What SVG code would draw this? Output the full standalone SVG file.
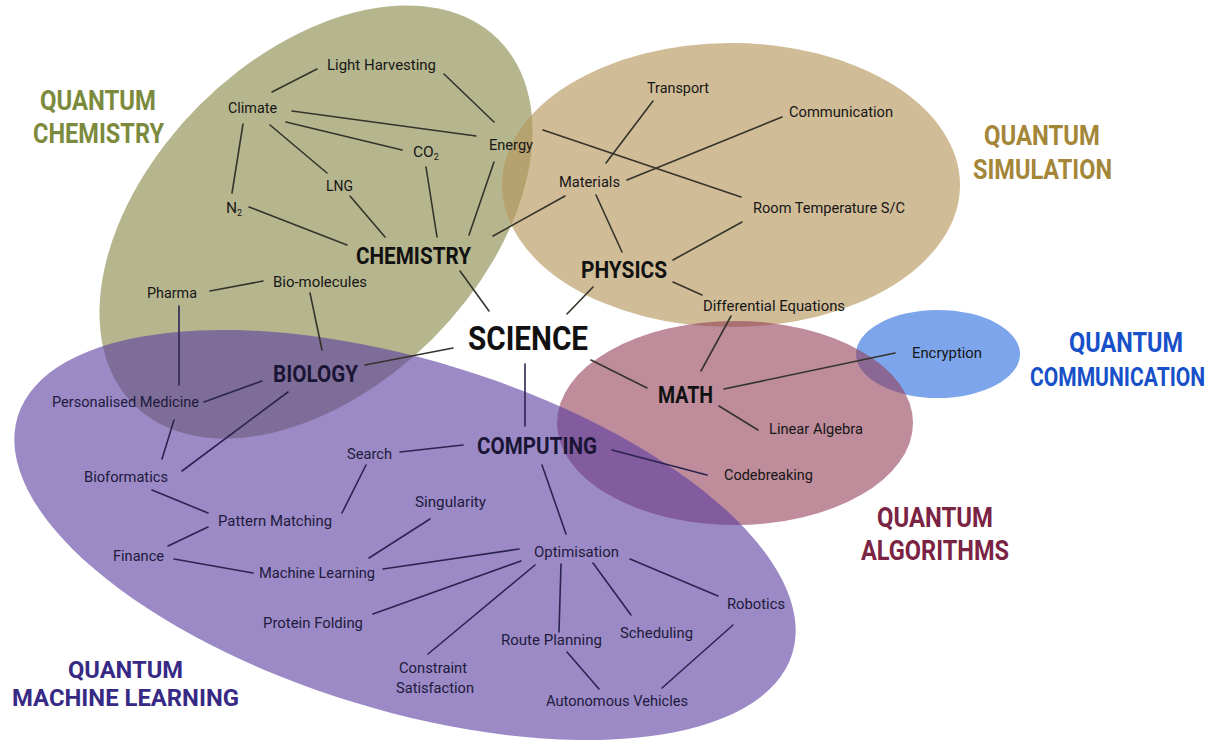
<svg xmlns="http://www.w3.org/2000/svg" width="1227" height="742" viewBox="0 0 1227 742">
<style>
text{font-family:Roboto,"Liberation Sans",sans-serif}
.s{font-size:15.5px;fill:#161616}
.sp{font-size:15.5px;fill:#201a3c}
.b{font-size:24px;font-weight:700;fill:#111}
.bp{font-size:24px;font-weight:700;fill:#1a1535}
.t{font-size:27px;font-weight:700}
.ln line{stroke:#35342c;stroke-width:1.6;stroke-linecap:round}
.ln line.p{stroke:#2b2450}
</style>
<rect width="1227" height="742" fill="#ffffff"/>
<g id="regions">
<ellipse id="r-chem" cx="316" cy="222" rx="258" ry="165" transform="rotate(-45 316 222)" fill="#b6b68e"/>
<ellipse id="r-sim" cx="731" cy="185" rx="229" ry="142" fill="#b7985e" fill-opacity="0.65"/>
<ellipse id="r-comm" cx="938" cy="354" rx="82" ry="44" fill="#7da5eb"/>
<ellipse id="r-alg" cx="735" cy="423" rx="178" ry="102" fill="#933f58" fill-opacity="0.6"/>
<ellipse id="r-ml" cx="405" cy="535" rx="405" ry="175" transform="rotate(17 405 535)" fill="#5a3ca0" fill-opacity="0.6"/>
</g>
<g id="connectors" class="ln">
<line x1="272" y1="92" x2="317" y2="69"/>
<line x1="292" y1="111" x2="476" y2="136"/>
<line x1="286" y1="122" x2="402" y2="150"/>
<line x1="270" y1="125" x2="327" y2="173"/>
<line x1="243" y1="124" x2="232" y2="193"/>
<line x1="249" y1="207" x2="347" y2="245"/>
<line x1="350" y1="196" x2="385" y2="237"/>
<line x1="444" y1="74" x2="494" y2="122"/>
<line x1="426" y1="167" x2="437" y2="237"/>
<line x1="494" y1="162" x2="469" y2="235"/>
<line x1="565" y1="196" x2="493" y2="236"/>
<line x1="543" y1="130" x2="741" y2="197"/>
<line x1="653" y1="101" x2="606" y2="163"/>
<line x1="627" y1="180" x2="782" y2="117"/>
<line x1="596" y1="195" x2="622" y2="252"/>
<line x1="742" y1="222" x2="673" y2="260"/>
<line x1="673" y1="282" x2="702" y2="295"/>
<line x1="460" y1="271" x2="489" y2="311"/>
<line x1="593" y1="287" x2="567" y2="314"/>
<line x1="453" y1="348" x2="365" y2="365"/>
<line x1="731" y1="316" x2="701" y2="371"/>
<line x1="591" y1="360" x2="647" y2="388"/>
<line x1="724" y1="389" x2="895" y2="353"/>
<line x1="719" y1="406" x2="758" y2="430"/>
<line class="p" x1="525" y1="364" x2="525" y2="426"/>
<line class="p" x1="612" y1="450" x2="707" y2="475"/>
<line class="p" x1="463" y1="445" x2="400" y2="452"/>
<line class="p" x1="542" y1="465" x2="566" y2="534"/>
<line x1="210" y1="291" x2="263" y2="281"/>
<line x1="310" y1="293" x2="322" y2="350"/>
<line class="p" x1="179" y1="306" x2="179" y2="385"/>
<line class="p" x1="262" y1="381" x2="204" y2="402"/>
<line class="p" x1="174" y1="420" x2="162" y2="459"/>
<line class="p" x1="288" y1="392" x2="182" y2="471"/>
<line class="p" x1="366" y1="465" x2="342" y2="513"/>
<line class="p" x1="152" y1="490" x2="208" y2="513"/>
<line class="p" x1="208" y1="527" x2="168" y2="546"/>
<line class="p" x1="174" y1="559" x2="253" y2="573"/>
<line class="p" x1="369" y1="558" x2="430" y2="519"/>
<line class="p" x1="383" y1="569" x2="519" y2="549"/>
<line class="p" x1="373" y1="614" x2="521" y2="561"/>
<line class="p" x1="428" y1="654" x2="535" y2="565"/>
<line class="p" x1="561" y1="564" x2="559" y2="632"/>
<line class="p" x1="593" y1="563" x2="631" y2="615"/>
<line class="p" x1="630" y1="559" x2="718" y2="596"/>
<line class="p" x1="567" y1="652" x2="599" y2="689"/>
<line class="p" x1="733" y1="625" x2="662" y2="688"/>
</g>
<g id="titles">
<text class="t" fill="#7b8a3c" x="40" y="110" textLength="116" lengthAdjust="spacingAndGlyphs">QUANTUM</text>
<text class="t" fill="#7b8a3c" x="33" y="143" textLength="131" lengthAdjust="spacingAndGlyphs">CHEMISTRY</text>
<text class="t" fill="#a48638" x="984" y="145" textLength="116" lengthAdjust="spacingAndGlyphs">QUANTUM</text>
<text class="t" fill="#a48638" x="973" y="179" textLength="139" lengthAdjust="spacingAndGlyphs">SIMULATION</text>
<text class="t" fill="#1750c8" x="1069" y="352" textLength="114" lengthAdjust="spacingAndGlyphs">QUANTUM</text>
<text class="t" style="font-size:26px" fill="#1750c8" transform="translate(1030 386) scale(0.81 1)" x="0" y="0">COMMUNICATION</text>
<text class="t" fill="#7a2343" x="877" y="527" textLength="116" lengthAdjust="spacingAndGlyphs">QUANTUM</text>
<text class="t" fill="#7a2343" x="861" y="560" textLength="148" lengthAdjust="spacingAndGlyphs">ALGORITHMS</text>
<text class="t" style="font-size:24px" fill="#372a85" x="68" y="678" textLength="115" lengthAdjust="spacingAndGlyphs">QUANTUM</text>
<text class="t" style="font-size:24px" fill="#372a85" x="12" y="706" textLength="227" lengthAdjust="spacingAndGlyphs">MACHINE LEARNING</text>
</g>
<g id="n-science"><text class="b" style="font-size:34px" x="468" y="350" textLength="120" lengthAdjust="spacingAndGlyphs">SCIENCE</text></g>
<g id="n-chemistry"><text class="b" x="356" y="264" textLength="115" lengthAdjust="spacingAndGlyphs">CHEMISTRY</text></g>
<g id="n-physics"><text class="b" x="581" y="278" textLength="86" lengthAdjust="spacingAndGlyphs">PHYSICS</text></g>
<g id="n-math"><text class="b" x="658" y="403" textLength="55" lengthAdjust="spacingAndGlyphs">MATH</text></g>
<g id="n-computing"><text class="bp" x="477" y="454" textLength="120" lengthAdjust="spacingAndGlyphs">COMPUTING</text></g>
<g id="n-biology"><text class="bp" x="273" y="382" textLength="85" lengthAdjust="spacingAndGlyphs">BIOLOGY</text></g>
<g id="n-light"><text class="s" x="327" y="70" textLength="109" lengthAdjust="spacingAndGlyphs">Light Harvesting</text></g>
<g id="n-climate"><text class="s" x="228" y="113" textLength="49" lengthAdjust="spacingAndGlyphs">Climate</text></g>
<g id="n-energy"><text class="s" x="489" y="150" textLength="44" lengthAdjust="spacingAndGlyphs">Energy</text></g>
<g id="n-co2"><text class="s" x="413" y="157">CO<tspan font-size="9" dy="3">2</tspan></text></g>
<g id="n-lng"><text class="s" x="326" y="191" textLength="27" lengthAdjust="spacingAndGlyphs">LNG</text></g>
<g id="n-n2"><text class="s" x="226" y="213">N<tspan font-size="9" dy="3">2</tspan></text></g>
<g id="n-transport"><text class="s" x="647" y="93" textLength="62" lengthAdjust="spacingAndGlyphs">Transport</text></g>
<g id="n-communication"><text class="s" x="789" y="117" textLength="104" lengthAdjust="spacingAndGlyphs">Communication</text></g>
<g id="n-materials"><text class="s" x="559" y="187" textLength="61" lengthAdjust="spacingAndGlyphs">Materials</text></g>
<g id="n-roomtemp"><text class="s" x="753" y="213" textLength="152" lengthAdjust="spacingAndGlyphs">Room Temperature S/C</text></g>
<g id="n-diffeq"><text class="s" x="703" y="311" textLength="142" lengthAdjust="spacingAndGlyphs">Differential Equations</text></g>
<g id="n-encryption"><text class="s" x="912" y="358" textLength="70" lengthAdjust="spacingAndGlyphs">Encryption</text></g>
<g id="n-linalg"><text class="s" x="769" y="434" textLength="94" lengthAdjust="spacingAndGlyphs">Linear Algebra</text></g>
<g id="n-codebreaking"><text class="s" x="724" y="480" textLength="89" lengthAdjust="spacingAndGlyphs">Codebreaking</text></g>
<g id="n-biomolecules"><text class="s" x="273" y="287" textLength="94" lengthAdjust="spacingAndGlyphs">Bio-molecules</text></g>
<g id="n-pharma"><text class="s" x="147" y="298" textLength="50" lengthAdjust="spacingAndGlyphs">Pharma</text></g>
<g id="n-persmed"><text class="sp" x="52" y="407" textLength="147" lengthAdjust="spacingAndGlyphs">Personalised Medicine</text></g>
<g id="n-bioformatics"><text class="sp" x="84" y="482" textLength="84" lengthAdjust="spacingAndGlyphs">Bioformatics</text></g>
<g id="n-search"><text class="sp" x="347" y="459" textLength="45" lengthAdjust="spacingAndGlyphs">Search</text></g>
<g id="n-pattern"><text class="sp" x="218" y="526" textLength="114" lengthAdjust="spacingAndGlyphs">Pattern Matching</text></g>
<g id="n-singularity"><text class="sp" x="415" y="507" textLength="71" lengthAdjust="spacingAndGlyphs">Singularity</text></g>
<g id="n-finance"><text class="sp" x="113" y="561" textLength="51" lengthAdjust="spacingAndGlyphs">Finance</text></g>
<g id="n-ml"><text class="sp" x="259" y="578" textLength="116" lengthAdjust="spacingAndGlyphs">Machine Learning</text></g>
<g id="n-optimisation"><text class="sp" x="534" y="557" textLength="85" lengthAdjust="spacingAndGlyphs">Optimisation</text></g>
<g id="n-protein"><text class="sp" x="263" y="628" textLength="100" lengthAdjust="spacingAndGlyphs">Protein Folding</text></g>
<g id="n-robotics"><text class="sp" x="727" y="609" textLength="58" lengthAdjust="spacingAndGlyphs">Robotics</text></g>
<g id="n-route"><text class="sp" x="501" y="645" textLength="101" lengthAdjust="spacingAndGlyphs">Route Planning</text></g>
<g id="n-scheduling"><text class="sp" x="620" y="638" textLength="73" lengthAdjust="spacingAndGlyphs">Scheduling</text></g>
<g id="n-constraint"><text class="sp" x="399" y="673" textLength="68" lengthAdjust="spacingAndGlyphs">Constraint</text><text class="sp" x="396" y="693" textLength="78" lengthAdjust="spacingAndGlyphs">Satisfaction</text></g>
<g id="n-autonomous"><text class="sp" x="546" y="706" textLength="142" lengthAdjust="spacingAndGlyphs">Autonomous Vehicles</text></g>
</svg>
